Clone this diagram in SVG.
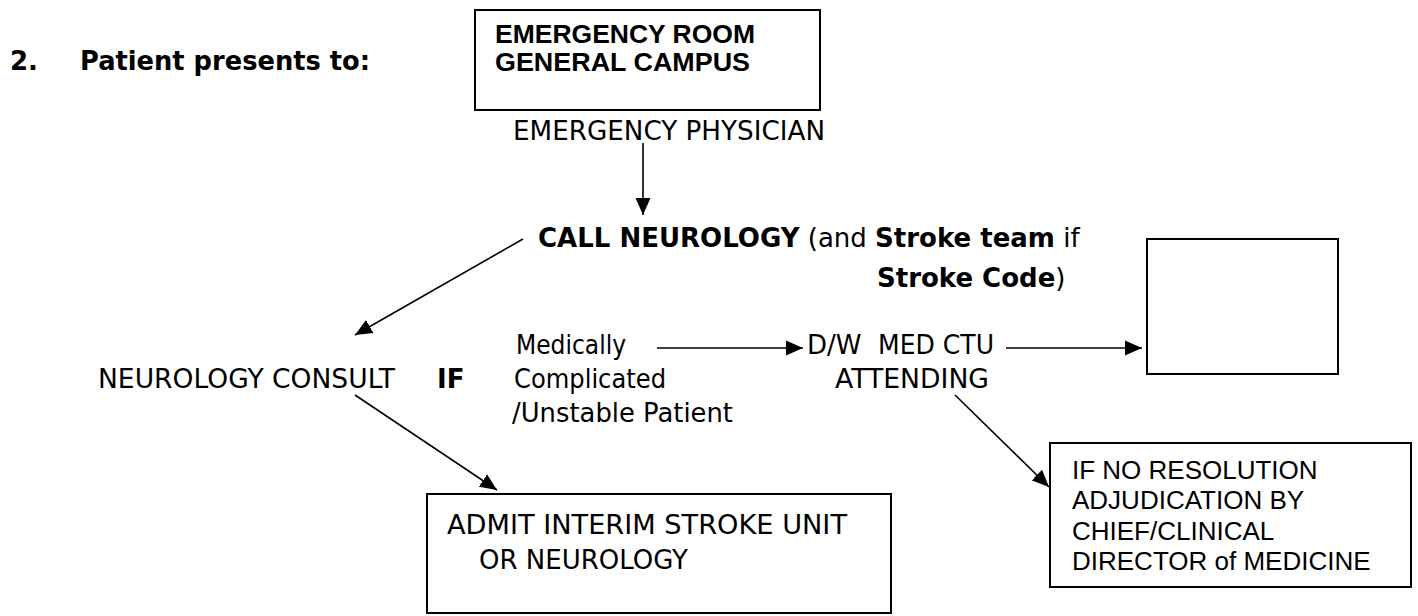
<svg xmlns="http://www.w3.org/2000/svg" width="1418" height="616" viewBox="0 0 1418 616">
<style>
  .t { font-family: "DejaVu Sans", Verdana, sans-serif; font-size: 26px; fill: #000; }
  .b { font-weight: bold; }
  .a { font-family: "Liberation Sans", Arial, sans-serif; font-size: 26px; fill: #000; }
  .box { fill: #fff; stroke: #000; stroke-width: 2; }
  .c { stroke: #000; stroke-width: 1.6; fill: none; marker-end: url(#ah); }
</style>
<defs>
  <marker id="ah" markerUnits="userSpaceOnUse" markerWidth="17" markerHeight="16" viewBox="0 0 17 16" refX="17" refY="8" orient="auto">
    <path d="M0,0.5 L17,8 L0,15.5 z" fill="#000"/>
  </marker>
</defs>
<rect width="1418" height="616" fill="#fff"/>

<g id="title">
  <text class="t b" x="10" y="70" font-size="28">2.</text>
  <text class="t b" x="80" y="70" font-size="28" textLength="290" lengthAdjust="spacingAndGlyphs">Patient presents to:</text>
</g>

<g id="er-box">
  <rect class="box" x="475" y="10" width="345" height="100"/>
  <text class="a b" x="495" y="43" font-size="23" textLength="260" lengthAdjust="spacingAndGlyphs">EMERGENCY ROOM</text>
  <text class="a b" x="495" y="71" font-size="23" textLength="255" lengthAdjust="spacingAndGlyphs">GENERAL CAMPUS</text>
</g>

<g id="emergency-physician">
  <text class="t" x="513" y="140" textLength="312" lengthAdjust="spacingAndGlyphs">EMERGENCY PHYSICIAN</text>
</g>

<g id="call-neurology">
  <text class="t" x="538" y="247"><tspan class="b">CALL NEUROLOGY</tspan> (and <tspan class="b">Stroke team</tspan> if</text>
  <text class="t" x="877" y="287"><tspan class="b">Stroke Code</tspan>)</text>
</g>

<g id="empty-box">
  <rect class="box" x="1147" y="239" width="191" height="135"/>
</g>

<g id="neurology-consult">
  <text class="t" x="98" y="388" textLength="297" lengthAdjust="spacingAndGlyphs">NEUROLOGY CONSULT</text>
  <text class="t b" x="437" y="388">IF</text>
</g>

<g id="medically">
  <text class="t" x="516" y="354" textLength="110" lengthAdjust="spacingAndGlyphs">Medically</text>
  <text class="t" x="514" y="388" textLength="152" lengthAdjust="spacingAndGlyphs">Complicated</text>
  <text class="t" x="512" y="422" textLength="221" lengthAdjust="spacingAndGlyphs">/Unstable Patient</text>
</g>

<g id="med-ctu">
  <text class="t" x="807" y="354">D/W</text>
  <text class="t" x="878" y="354" textLength="116" lengthAdjust="spacingAndGlyphs">MED CTU</text>
  <text class="t" x="835" y="388" textLength="154" lengthAdjust="spacingAndGlyphs">ATTENDING</text>
</g>

<g id="admit-box">
  <rect class="box" x="427" y="494" width="464" height="119"/>
  <text class="t" x="447" y="534" textLength="400" lengthAdjust="spacingAndGlyphs">ADMIT INTERIM STROKE UNIT</text>
  <text class="t" x="479" y="569">OR NEUROLOGY</text>
</g>

<g id="resolution-box">
  <rect class="box" x="1050" y="443" width="361" height="144"/>
  <text class="a" x="1072" y="479">IF NO RESOLUTION</text>
  <text class="a" x="1072" y="509">ADJUDICATION BY</text>
  <text class="a" x="1072" y="540">CHIEF/CLINICAL</text>
  <text class="a" x="1072" y="570">DIRECTOR of MEDICINE</text>
</g>

<g id="connectors">
  <line class="c" x1="643" y1="143" x2="643" y2="215"/>
  <line class="c" x1="523" y1="239" x2="355" y2="335"/>
  <line class="c" x1="355" y1="395" x2="497" y2="490"/>
  <line class="c" x1="657" y1="348" x2="803" y2="348"/>
  <line class="c" x1="1006" y1="348" x2="1142" y2="348"/>
  <line class="c" x1="955" y1="395" x2="1049" y2="487"/>
</g>
</svg>
